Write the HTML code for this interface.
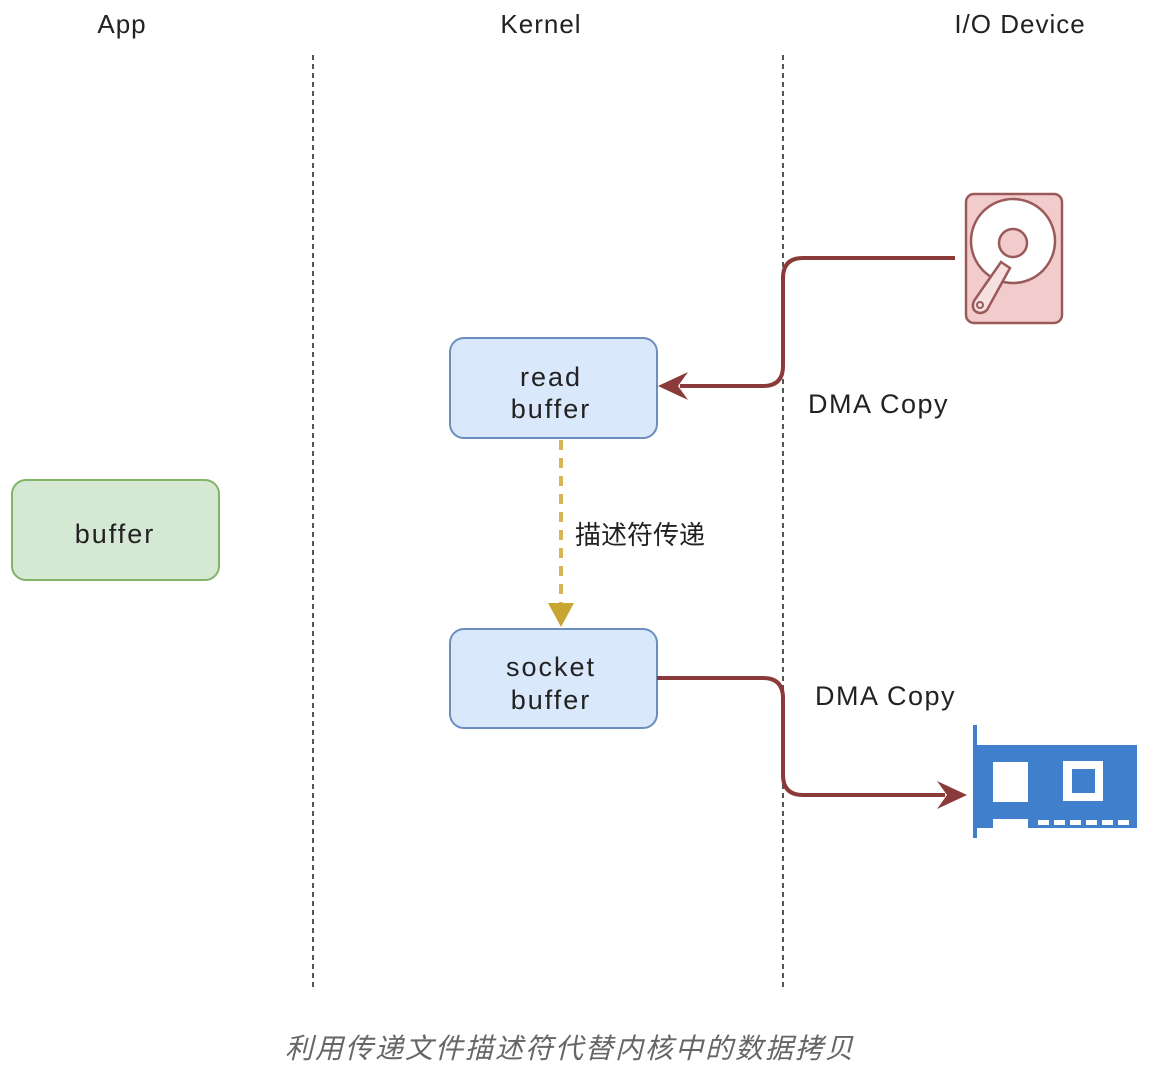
<!DOCTYPE html>
<html><head><meta charset="utf-8"><style>
html,body{margin:0;padding:0;background:#fff;}
svg{display:block;}
text{font-family:"Liberation Sans","Noto Sans CJK SC",sans-serif;fill:#222;}
</style></head><body>
<svg width="1174" height="1080" viewBox="0 0 1174 1080" xmlns="http://www.w3.org/2000/svg">
<text x="122" y="33" font-size="26" text-anchor="middle" letter-spacing="1">App</text>
<text x="541" y="33" font-size="26" text-anchor="middle" letter-spacing="1">Kernel</text>
<text x="1020" y="33" font-size="26" text-anchor="middle" letter-spacing="1">I/O Device</text>
<line x1="313" y1="55" x2="313" y2="990" stroke="#555" stroke-width="2" stroke-dasharray="5,4"/>
<line x1="783" y1="55" x2="783" y2="990" stroke="#555" stroke-width="2" stroke-dasharray="5,4"/>
<rect x="12" y="480" width="207" height="100" rx="14" fill="#d5e8d4" stroke="#82b366" stroke-width="2"/>
<text x="115" y="543" font-size="27" text-anchor="middle" letter-spacing="2">buffer</text>
<rect x="450" y="338" width="207" height="100" rx="14" fill="#dae8fc" stroke="#6c8ebf" stroke-width="2"/>
<text x="551" y="386" font-size="27" text-anchor="middle" letter-spacing="2">read</text>
<text x="551" y="418" font-size="27" text-anchor="middle" letter-spacing="2">buffer</text>
<rect x="450" y="629" width="207" height="99" rx="14" fill="#dae8fc" stroke="#6c8ebf" stroke-width="2"/>
<text x="551" y="676" font-size="27" text-anchor="middle" letter-spacing="2">socket</text>
<text x="551" y="709" font-size="27" text-anchor="middle" letter-spacing="2">buffer</text>
<line x1="561" y1="440" x2="561" y2="605" stroke="#d6b656" stroke-width="4" stroke-dasharray="10,8"/>
<polygon points="548,603 574,603 561,627" fill="#c9a531"/>
<text x="575" y="544" font-size="26">描述符传递</text>
<path d="M955,258 H803 Q783,258 783,278 V366 Q783,386 763,386 H680" fill="none" stroke="#8b3a3a" stroke-width="4"/>
<polygon points="658,386 688,372 678,386 688,400" fill="#8b3a3a"/>
<text x="808" y="413" font-size="27" letter-spacing="1.5">DMA Copy</text>
<path d="M657,678 H763 Q783,678 783,698 V775 Q783,795 803,795 H945" fill="none" stroke="#8b3a3a" stroke-width="4"/>
<polygon points="967,795 937,781 947,795 937,809" fill="#8b3a3a"/>
<text x="815" y="705" font-size="27" letter-spacing="1.5">DMA Copy</text>
<rect x="966" y="194" width="96" height="129" rx="8" fill="#f2cccc" stroke="#9a5a5a" stroke-width="2.5"/>
<circle cx="1013" cy="241" r="42" fill="#fff" stroke="#9a5a5a" stroke-width="2.5"/>
<circle cx="1013" cy="243" r="14" fill="#f2cccc" stroke="#9a5a5a" stroke-width="2.5"/>
<path d="M1001,262 L1010,268 L987,310 Q980,316 974,310 Q971,304 976,298 Z" fill="#f6e0e0" stroke="#9a5a5a" stroke-width="2.5"/>
<circle cx="980" cy="305" r="3" fill="none" stroke="#9a5a5a" stroke-width="2"/>
<line x1="975" y1="725" x2="975" y2="838" stroke="#3f7fcc" stroke-width="4"/>
<path d="M975,745 H1137 V828 H1028 V819 H993 V828 H975 Z" fill="#3f7fcc"/>
<rect x="993" y="762" width="35" height="40" fill="#fff"/>
<rect x="1063" y="761" width="40" height="40" fill="#fff"/>
<rect x="1072" y="769" width="23" height="24" fill="#3f7fcc"/>
<g fill="#fff">
<rect x="1038" y="820" width="11" height="5"/><rect x="1054" y="820" width="11" height="5"/><rect x="1070" y="820" width="11" height="5"/><rect x="1086" y="820" width="11" height="5"/><rect x="1102" y="820" width="11" height="5"/><rect x="1118" y="820" width="11" height="5"/>
</g>
<text x="570" y="1058" font-size="28" font-style="italic" text-anchor="middle" letter-spacing="2" style="fill:#666">利用传递文件描述符代替内核中的数据拷贝</text>
</svg>
</body></html>
